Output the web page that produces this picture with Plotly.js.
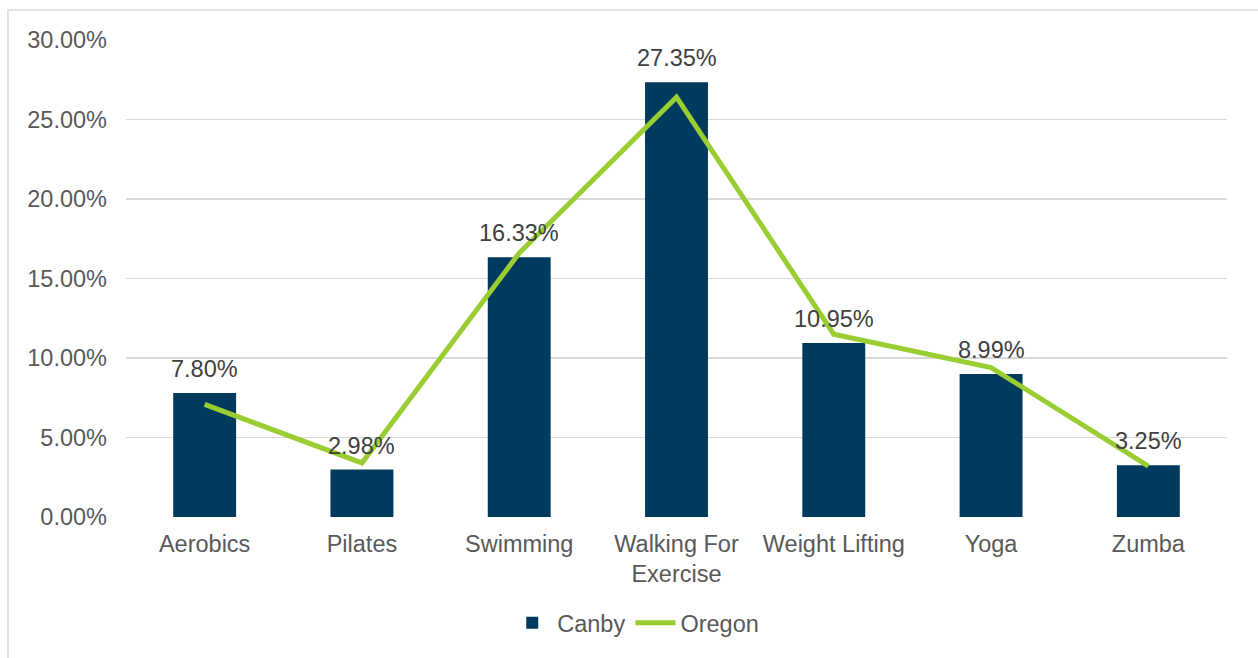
<!DOCTYPE html>
<html>
<head>
<meta charset="utf-8">
<script src="https://cdn.plot.ly/plotly-3.0.1.min.js"></script>
<style>html,body{margin:0;padding:0;background:#fff;}#chart{width:1258px;height:658px;}</style>
</head>
<body>
<div id="chart"></div>
<script>
const categories = ["Aerobics", "Pilates", "Swimming", "Walking For<br>Exercise", "Weight Lifting", "Yoga", "Zumba"];
const canby = [7.80, 2.98, 16.33, 27.35, 10.95, 8.99, 3.25];
const oregon = [7.08, 3.40, 16.60, 26.40, 11.50, 9.40, 3.20];
const yTicks = [0, 5, 10, 15, 20, 25, 30];
const yTickLabels = yTicks.map(v => v.toFixed(2) + "%");

const font = "Liberation Sans, Arial, sans-serif";
const fs = 23.5;

const traces = [
  {
    type: "bar", name: "Canby", x: categories, y: canby,
    marker: {color: "#003A5D"}, hoverinfo: "skip"
  },
  {
    type: "scatter", mode: "lines", name: "Oregon", x: categories, y: oregon,
    line: {color: "#9ACD32", width: 5}, hoverinfo: "skip"
  }
];

const annotations = categories.map((c, i) => ({
  x: c, y: canby[i], xref: "x", yref: "y",
  text: canby[i].toFixed(2) + "%", showarrow: false,
  yanchor: "bottom", yshift: 9,
  font: {family: font, size: fs, color: "#404040"}
}));

const layout = {
  width: 1258, height: 658,
  margin: {l: 126, r: 31, t: 40, b: 141},
  paper_bgcolor: "#fff", plot_bgcolor: "#fff",
  bargap: 0.6,
  showlegend: true,
  legend: {
    orientation: "h", x: 0.463, xanchor: "center", y: -0.222, yanchor: "middle",
    font: {family: font, size: fs, color: "#595959"}, traceorder: "normal",
    itemwidth: 40
  },
  xaxis: {
    type: "category", showgrid: false, zeroline: false, showline: false,
    tickfont: {family: font, size: fs, color: "#595959"},
    ticks: "", ticklabelstandoff: 10
  },
  yaxis: {
    range: [0, 30], tickvals: yTicks, ticktext: yTickLabels,
    showgrid: true, gridcolor: "#D9D9D9", gridwidth: 1.5,
    zeroline: false, showline: false, ticks: "",
    tickfont: {family: font, size: fs, color: "#595959"},
    ticklabelstandoff: 18
  },
  annotations: annotations,
  shapes: [{
    type: "rect", xref: "paper", yref: "paper",
    x0: -0.1072, x1: 1.032, y0: -0.3208, y1: 1.0629,
    line: {color: "#D9D9D9", width: 1.5}, fillcolor: "rgba(0,0,0,0)", layer: "below"
  }]
};

Plotly.newPlot("chart", traces, layout, {displayModeBar: false, staticPlot: true});
</script>
</body>
</html>
